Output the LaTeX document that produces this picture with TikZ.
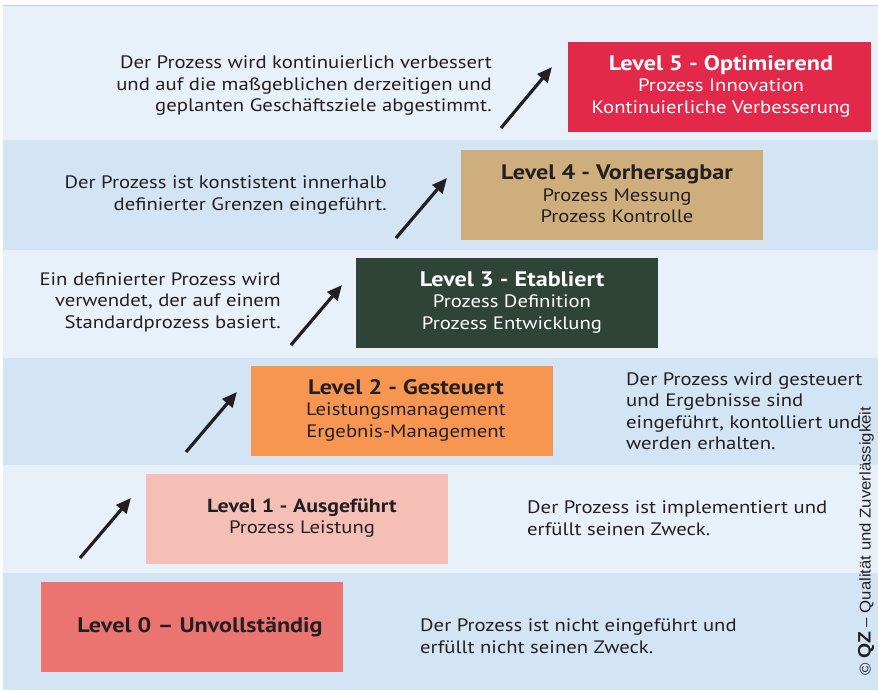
\documentclass[tikz,border=0pt]{standalone}
\usepackage{fontspec}
\setmainfont{PT Sans}[FakeStretch=1.15]
\newfontfamily\copyfont{Liberation Sans}[FakeStretch=1.08]
\usetikzlibrary{arrows.meta}
\definecolor{bandA}{HTML}{E8F1FA}
\definecolor{bandB}{HTML}{D3E4F4}
\definecolor{topline}{HTML}{B9D0EA}
\definecolor{txt}{HTML}{231F20}
\definecolor{cZero}{HTML}{EB7470}
\definecolor{cOne}{HTML}{F5BFB5}
\definecolor{cTwo}{HTML}{F79651}
\definecolor{cThree}{HTML}{2F4437}
\definecolor{cFour}{HTML}{CFAE7E}
\definecolor{cFive}{HTML}{E3294A}
\tikzset{
  lvbox/.style={inner sep=0pt, minimum width=302pt, minimum height=90pt, anchor=north west},
  lvtext/.style={align=center, inner sep=0pt, font=\fontsize{18}{21.5}\selectfont},
  desc/.style={inner sep=0pt, text=txt, font=\fontsize{18}{21.5}\selectfont},
  uparrow/.style={line width=3.2pt, draw=txt, -{Triangle[length=15pt,width=13pt]}},
}
\newcommand{\ttl}[1]{{\fontsize{21}{23}\selectfont\bfseries #1}}
\begin{document}
\begin{tikzpicture}[x=1pt,y=-1pt]
\useasboundingbox (0,0) rectangle (878,691);
\fill[white] (0,0) rectangle (878,691);
% bands
\fill[bandA] (3,5) rectangle (878,140);
\fill[bandB] (3,140) rectangle (878,250);
\fill[bandA] (3,250) rectangle (878,358);
\fill[bandB] (3,358) rectangle (878,465);
\fill[bandA] (3,465) rectangle (878,573);
\fill[bandB] (3,573) rectangle (878,690);
\draw[topline, line width=1pt] (3,5) -- (878,5);
% level boxes
\node[lvbox, fill=cZero] (b0) at (41,582) {};
\node[lvbox, fill=cOne] (b1) at (146,474) {};
\node[lvbox, fill=cTwo] (b2) at (251,366) {};
\node[lvbox, fill=cThree] (b3) at (356,258) {};
\node[lvbox, fill=cFour] (b4) at (461,150) {};
\node[lvbox, fill=cFive, minimum width=303pt] (b5) at (568,42) {};
% box texts
\node[lvtext, text=txt] (l0) at (200,627) {\ttl{Level 0 – Unvollständig}};
\node[lvtext, text=txt] (l1) at (302,518) {{\bfseries\fontsize{19}{21.5}\selectfont Level 1 - Ausgeführt}\\Prozess Leistung};
\node[lvtext, text=txt] (l2) at (406,410) {\ttl{Level 2 - Gesteuert}\\Leistungsmanagement\\Ergebnis-Management};
\node[lvtext, text=white] (l3) at (512,302) {\ttl{Level 3 - Etabliert}\\Prozess Definition\\Prozess Entwicklung};
\node[lvtext, text=txt] (l4) at (617,194) {\ttl{Level 4 - Vorhersagbar}\\Prozess Messung\\Prozess Kontrolle};
\node[lvtext, text=white] (l5) at (721,86) {\ttl{Level 5 - Optimierend}\\Prozess Innovation\\Kontinuierliche Verbesserung};
% descriptions
\node[desc, align=left, anchor=west] (d0) at (420,636) {Der Prozess ist nicht eingeführt und\\erfüllt nicht seinen Zweck.};
\node[desc, align=left, anchor=west] (d1) at (527,518) {Der Prozess ist implementiert und\\erfüllt seinen Zweck.};
\node[desc, align=left, anchor=west] (d2) at (626,411) {Der Prozess wird gesteuert\\und Ergebnisse sind\\eingeführt, kontolliert und\\werden erhalten.};
\node[desc, align=right, anchor=east] (d3) at (281,302) {Ein definierter Prozess wird\\verwendet, der auf einem\\Standardprozess basiert.};
\node[desc, align=right, anchor=east] (d4) at (387,195) {Der Prozess ist konstistent innerhalb\\definierter Grenzen eingeführt.};
\node[desc, align=right, anchor=east] (d5) at (492,86) {Der Prozess wird kontinuierlich verbessert\\und auf die maßgeblichen derzeitigen und\\geplanten Geschäftsziele abgestimmt.};
% arrows
\coordinate (t1) at (80,558); \coordinate (h1) at (131,498);
\coordinate (t2) at (186,452); \coordinate (h2) at (237,392);
\coordinate (t3) at (291,345); \coordinate (h3) at (342,285);
\coordinate (t4) at (396,238); \coordinate (h4) at (447,178);
\coordinate (t5) at (501,128); \coordinate (h5) at (552,67);
\foreach \i in {1,...,5} {\draw[uparrow] (t\i) -- (h\i);}
% copyright
\node[rotate=90, inner sep=0pt, text=txt, font=\copyfont\fontsize{15.5}{17}\selectfont, anchor=west] (copy) at (866,676) {© {\bfseries\fontsize{18}{17}\selectfont QZ} – Qualität und Zuverlässigkeit};
\end{tikzpicture}
\end{document}
